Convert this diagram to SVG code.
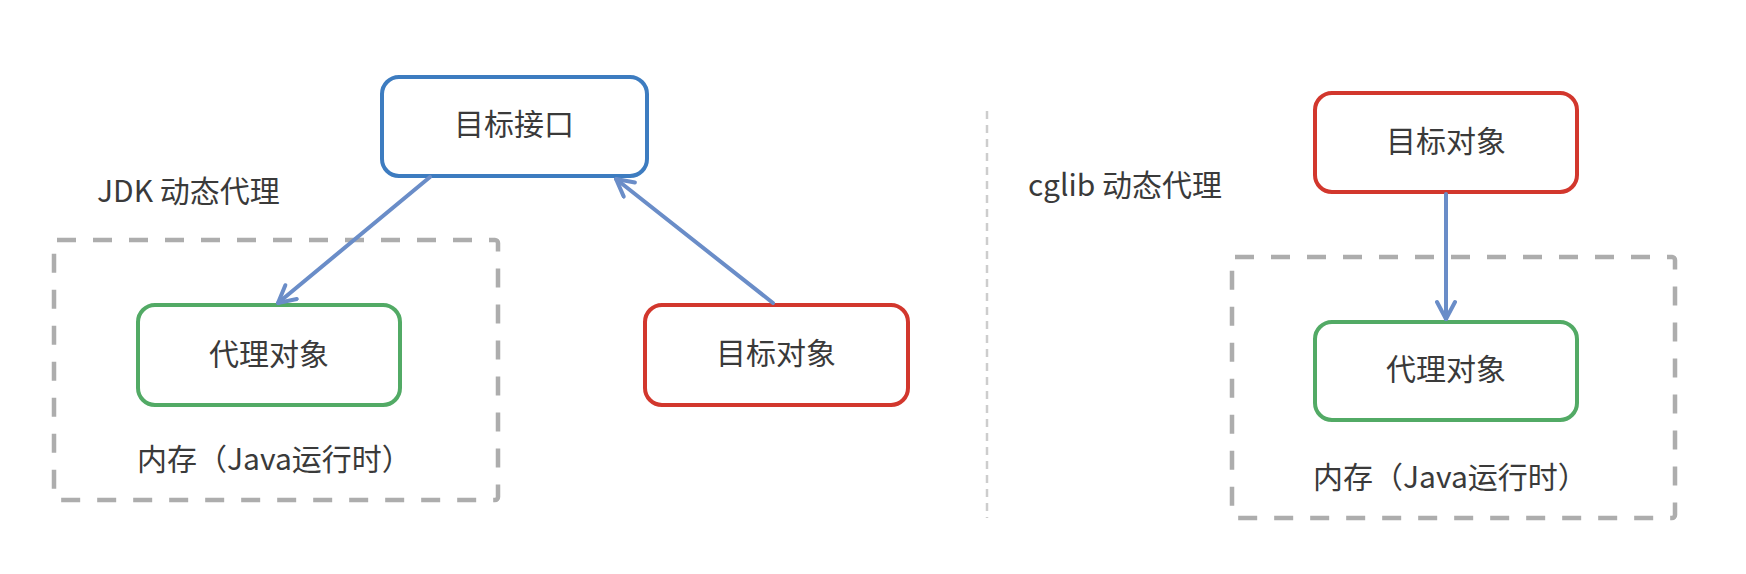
<svg xmlns="http://www.w3.org/2000/svg" width="1746" height="574" viewBox="0 0 1746 574">
<style>
  .bg { fill: #ffffff; }
  .node { fill: #ffffff; stroke-width: 4; }
  .blue { stroke: #3d7cc0; }
  .red { stroke: #d2372d; }
  .green { stroke: #52aa65; }
  .label { font-family: "Noto Sans CJK SC", "Noto Sans", sans-serif; font-size: 30px; fill: #3a3a3a; }
  .mid { text-anchor: middle; }
  .mem { fill: none; stroke: #adadad; stroke-width: 4.5; stroke-dasharray: 19 17; }
  .sep { fill: none; stroke: #cdcdcd; stroke-width: 2.5; stroke-dasharray: 8 6; }
  .conn { fill: none; stroke: #6a8dc8; stroke-width: 4; stroke-linecap: round; }
</style>
<defs>
  <marker id="arrow" viewBox="0 0 22 22" refX="20" refY="11" markerWidth="22" markerHeight="22" markerUnits="userSpaceOnUse" orient="auto">
    <path d="M3,2 L20,11 L3,20" fill="none" stroke="#6a8dc8" stroke-width="4" stroke-linecap="round" stroke-linejoin="round"/>
  </marker>
</defs>
<rect class="bg" x="0" y="0" width="1746" height="574"/>

<g id="separator">
  <line class="sep" x1="987" y1="111" x2="987" y2="518"/>
</g>

<g id="jdk-title">
  <text class="label" x="97" y="202">JDK 动态代理</text>
</g>

<g id="jdk-memory">
  <rect class="mem" x="54" y="240" width="444" height="260" rx="3"/>
  <text class="label" x="137" y="470">内存（Java运行时）</text>
</g>

<g id="jdk-interface">
  <rect class="node blue" x="382" y="77" width="265" height="99" rx="17"/>
  <text class="label mid" x="514" y="135">目标接口</text>
</g>

<g id="jdk-proxy">
  <rect class="node green" x="138" y="305" width="262" height="100" rx="17"/>
  <text class="label mid" x="269" y="365">代理对象</text>
</g>

<g id="jdk-target">
  <rect class="node red" x="645" y="305" width="263" height="100" rx="17"/>
  <text class="label mid" x="776" y="364">目标对象</text>
</g>

<g id="cglib-title">
  <text class="label" x="1028" y="196">cglib 动态代理</text>
</g>

<g id="cglib-memory">
  <rect class="mem" x="1232" y="257" width="443" height="261" rx="3"/>
  <text class="label" x="1313" y="488">内存（Java运行时）</text>
</g>

<g id="cglib-target">
  <rect class="node red" x="1315" y="93" width="262" height="99" rx="17"/>
  <text class="label mid" x="1446" y="152">目标对象</text>
</g>

<g id="cglib-proxy">
  <rect class="node green" x="1315" y="322" width="262" height="98" rx="17"/>
  <text class="label mid" x="1446" y="380">代理对象</text>
</g>

<g id="connectors">
  <line class="conn" x1="430" y1="177" x2="278" y2="303" marker-end="url(#arrow)"/>
  <line class="conn" x1="773" y1="303" x2="616" y2="179" marker-end="url(#arrow)"/>
  <line class="conn" x1="1446" y1="194" x2="1446" y2="319" marker-end="url(#arrow)"/>
</g>
</svg>
